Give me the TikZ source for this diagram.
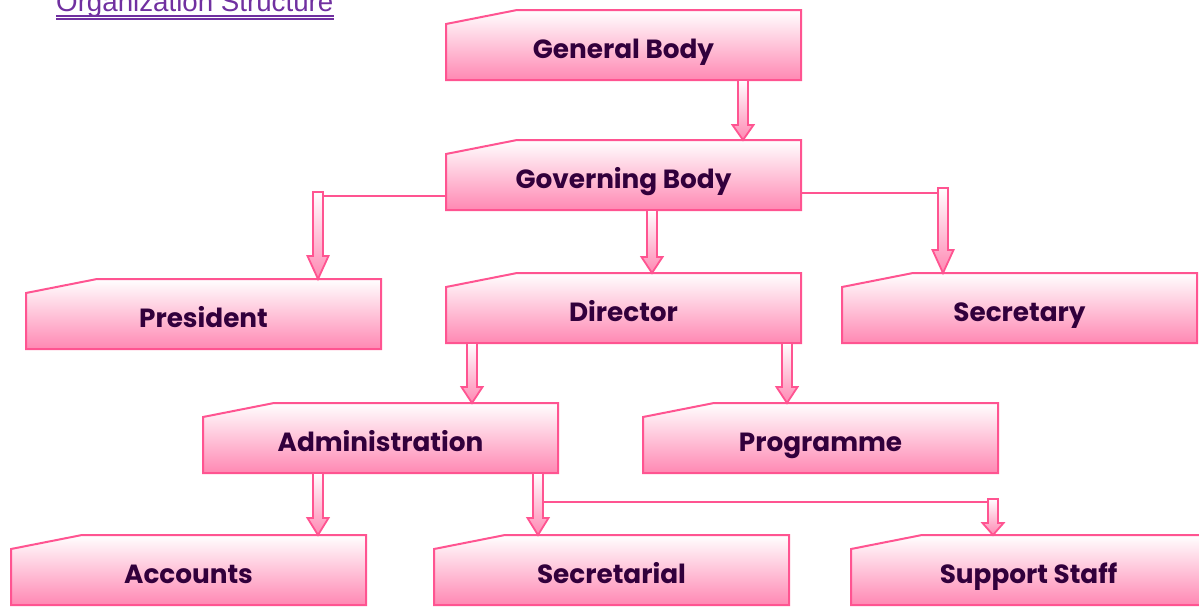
\documentclass[tikz,border=0pt]{standalone}
\usepackage{fontspec}
\setmainfont{Poppins}
\newfontfamily\titlefont{Liberation Sans}
\usetikzlibrary{calc}
\definecolor{pinkline}{HTML}{FF5491}
\definecolor{pinkfill}{HTML}{FF88B3}
\definecolor{boxtextcol}{HTML}{32003C}
\definecolor{titlepurple}{HTML}{7030A0}
\tikzset{
  boxfill/.style={draw=pinkline, line width=2pt, top color=white, bottom color=pinkfill},
  boxtext/.style={anchor=north west, minimum width=355pt, text height=48pt, text depth=22pt,
    inner sep=0pt, outer sep=0pt, text=boxtextcol, font=\bfseries\fontsize{26.3}{29}\selectfont},
  arrowfill/.style={draw=pinkline, line width=1.8pt, top color=white, bottom color=pinkfill},
  conn/.style={draw=pinkline, line width=1.8pt},
}
\newcommand\obox[4]{%
  \shade[boxfill] (#2,#3+14) -- (#2+71,#3) -- (#2+355,#3) -- (#2+355,#3+70) -- (#2,#3+70) -- cycle;
  \node[boxtext] (#1) at (#2,#3) {#4};}
\newcommand\barrow[3]{%
  \shade[arrowfill] let \p1=#1, \p2=#2 in
    (\x1-5pt,\y1) -- (\x1+5pt,\y1) -- (\x1+5pt,\y2+#3) -- (\x1+10.5pt,\y2+#3) -- (\x1,\y2)
    -- (\x1-10.5pt,\y2+#3) -- (\x1-5pt,\y2+#3) -- cycle;}
\begin{document}
\begin{tikzpicture}[x=1pt,y=-1pt]
\useasboundingbox (0,0) rectangle (1199,606);
% title
\node[anchor=base west, inner sep=0pt, text=titlepurple, font=\titlefont\fontsize{27.7}{30}\selectfont] (title) at (56,11) {Organization Structure};
\draw[titlepurple, line width=2pt] ([yshift=-5pt]title.base west) -- ([yshift=-5pt]title.base east);
\draw[titlepurple, line width=2pt] ([yshift=-8.4pt]title.base west) -- ([yshift=-8.4pt]title.base east);
% boxes
\obox{gen}{446}{10}{General Body}
\obox{gov}{446}{140}{Governing Body}
\obox{pres}{26}{279}{President}
\obox{dir}{446}{273}{Director}
\obox{sec}{842}{273}{Secretary}
\obox{adm}{203}{403}{Administration}
\obox{prog}{643}{403}{Programme}
\obox{acc}{11}{535}{Accounts}
\obox{secl}{434}{535}{Secretarial}
\obox{sup}{851}{535}{Support Staff}
% elbow helpers
\coordinate (pa) at ([xshift=292pt,yshift=87pt]pres.north west);
\coordinate (pb) at ([xshift=101pt,yshift=85pt]sec.north west);
\coordinate (pc) at ([xshift=142pt,yshift=36pt]sup.north west);
\coordinate (gl) at ([yshift=-21pt]gov.west);
\coordinate (gr) at ([yshift=-18pt]gov.east);
\coordinate (sl) at ([xshift=335pt,yshift=-29pt]adm.south west);
\draw[conn] (gl) -- (gl -| pa);
\draw[conn] (gr) -- (gr -| pb);
\draw[conn] (sl) -- (sl -| pc);
% arrows
\barrow{([xshift=297pt]gen.south west)}{([xshift=297pt]gov.north west)}{15pt}
\barrow{(pa)}{([xshift=292pt]pres.north west)}{23pt}
\barrow{([xshift=206pt]gov.south west)}{([xshift=206pt]dir.north west)}{16pt}
\barrow{(pb)}{([xshift=101pt]sec.north west)}{23pt}
\barrow{([xshift=26pt]dir.south west)}{([xshift=269pt]adm.north west)}{16pt}
\barrow{([xshift=341pt]dir.south west)}{([xshift=144pt]prog.north west)}{16pt}
\barrow{([xshift=115pt]adm.south west)}{([xshift=307pt]acc.north west)}{17pt}
\barrow{([xshift=335pt]adm.south west)}{([xshift=104pt]secl.north west)}{17pt}
\barrow{(pc)}{([xshift=142pt]sup.north west)}{12pt}
\end{tikzpicture}
\end{document}
